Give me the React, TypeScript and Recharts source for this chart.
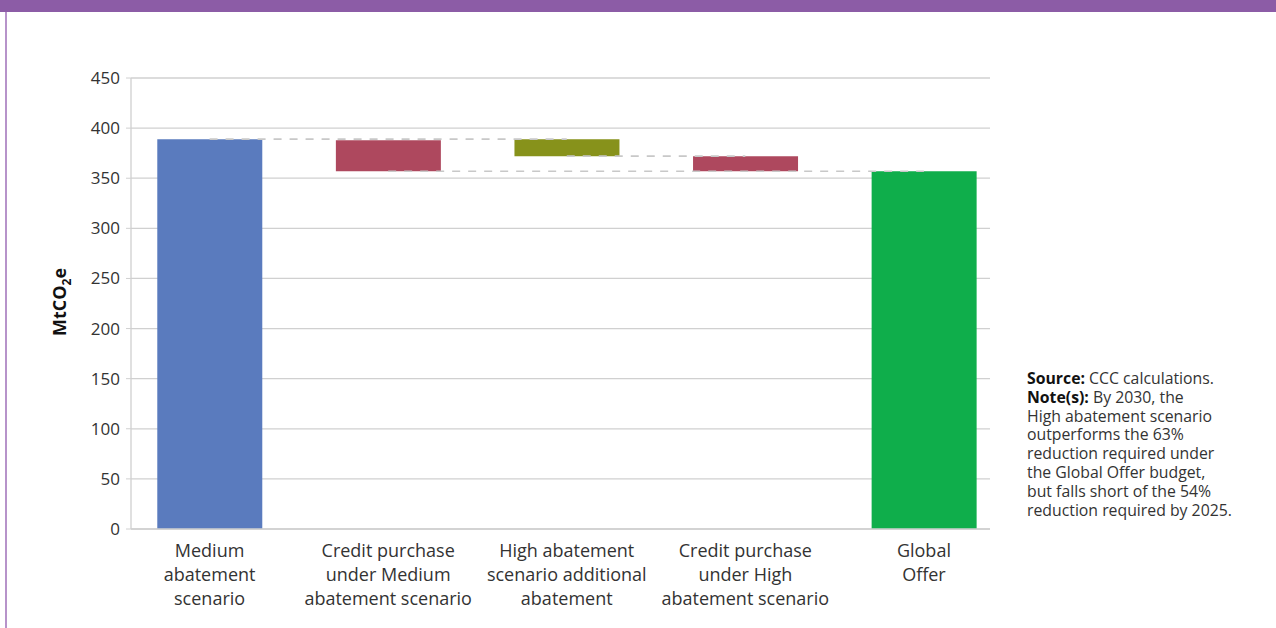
import React from "react";
import {
  BarChart,
  Bar,
  Cell,
  XAxis,
  YAxis,
  CartesianGrid,
  ReferenceLine,
} from "recharts";

const categories = [
  "Medium\nabatement\nscenario",
  "Credit purchase\nunder Medium\nabatement scenario",
  "High abatement\nscenario additional\nabatement",
  "Credit purchase\nunder High\nabatement scenario",
  "Global\nOffer",
];
const lows = [0, 357, 372, 357, 0];
const highs = [389, 388, 389, 372, 357];
const colors = ["#5A7BBE", "#AE485E", "#87921B", "#0FAE4B"];
const colorIdx = [0, 1, 2, 1, 3];
const yTicks = [0, 50, 100, 150, 200, 250, 300, 350, 400, 450];

// dashed connectors: from category index to category index at a level
const connFrom = [0, 2, 1];
const connTo = [2, 3, 4];
const connLevel = [389, 372, 357];

const data = categories.map((c, i) => ({
  idx: i,
  name: c,
  range: [lows[i], highs[i]],
}));

const FONT = "'Open Sans', sans-serif";

function XTick(props: any) {
  const { x, y, payload } = props;
  const lines = categories[payload.value]?.split("\n") ?? [];
  return (
    <text x={x} y={y + 20} textAnchor="middle" fill="#333" fontSize={18} fontFamily={FONT}>
      {lines.map((l, i) => (
        <tspan key={i} x={x} dy={i === 0 ? 0 : 24}>
          {l}
        </tspan>
      ))}
    </text>
  );
}

function YLabel() {
  return (
    <text
      x={66}
      y={302}
      transform="rotate(-90, 66, 302)"
      textAnchor="middle"
      fill="#111"
      fontSize={18}
      fontWeight="bold"
      fontFamily={FONT}
    >
      MtCO
      <tspan dy={5} fontSize={12}>2</tspan>
      <tspan dy={-5}>e</tspan>
    </text>
  );
}

export default function App() {
  return (
    <div
      style={{
        position: "absolute",
        left: 0,
        top: 0,
        width: 1276,
        height: 628,
        background: "#fff",
        overflow: "hidden",
        fontFamily: FONT,
      }}
    >
      <div style={{ position: "absolute", left: 0, top: 0, width: 1276, height: 12, background: "#8C5CA6" }} />
      <div style={{ position: "absolute", left: 5, top: 12, width: 2, height: 616, background: "#B793CA" }} />

      <div style={{ position: "absolute", left: 0, top: 0 }}>
        <BarChart
          width={1000}
          height={628}
          data={data}
          margin={{ top: 78, right: 10, bottom: 9, left: 0 }}
          barSize={105}
        >
          <CartesianGrid vertical={false} stroke="#d0d0d0" strokeWidth={1.3} />
          <XAxis
            dataKey="idx"
            type="number"
            domain={[-0.44, 4.37]}
            ticks={[0, 1, 2, 3, 4]}
            tick={<XTick />}
            tickLine={false}
            axisLine={{ stroke: "#d0d0d0", strokeWidth: 1.3 }}
            height={90}
            interval={0}
          />
          <YAxis
            domain={[0, 450]}
            ticks={yTicks}
            width={131}
            tickSize={5}
            tickMargin={6}
            tick={{ fill: "#333", fontSize: 17, fontFamily: FONT }}
            tickLine={{ stroke: "#d0d0d0" }}
            axisLine={{ stroke: "#d0d0d0", strokeWidth: 1.3 }}
            label={<YLabel />}
          />
          {connFrom.map((f, i) => (
            <ReferenceLine
              key={i}
              segment={[
                { x: f, y: connLevel[i] },
                { x: connTo[i], y: connLevel[i] },
              ]}
              stroke="#c8c8c8"
              strokeWidth={1.6}
              strokeDasharray="8 8"
              ifOverflow="visible"
            />
          ))}
          <Bar dataKey="range" isAnimationActive={false}>
            {data.map((d, i) => (
              <Cell key={i} fill={colors[colorIdx[i]]} />
            ))}
          </Bar>
        </BarChart>
      </div>

      <div
        style={{
          position: "absolute",
          left: 1027,
          top: 369,
          width: 249,
          fontSize: 15.8,
          lineHeight: "18.8px",
          color: "#333",
          whiteSpace: "nowrap",
        }}
      >
        <b style={{ color: "#111" }}>Source:</b> CCC calculations.
        <br />
        <b style={{ color: "#111" }}>Note(s):</b> By 2030, the
        <br />
        High abatement scenario
        <br />
        outperforms the 63%
        <br />
        reduction required under
        <br />
        the Global Offer budget,
        <br />
        but falls short of the 54%
        <br />
        reduction required by 2025.
      </div>
    </div>
  );
}
